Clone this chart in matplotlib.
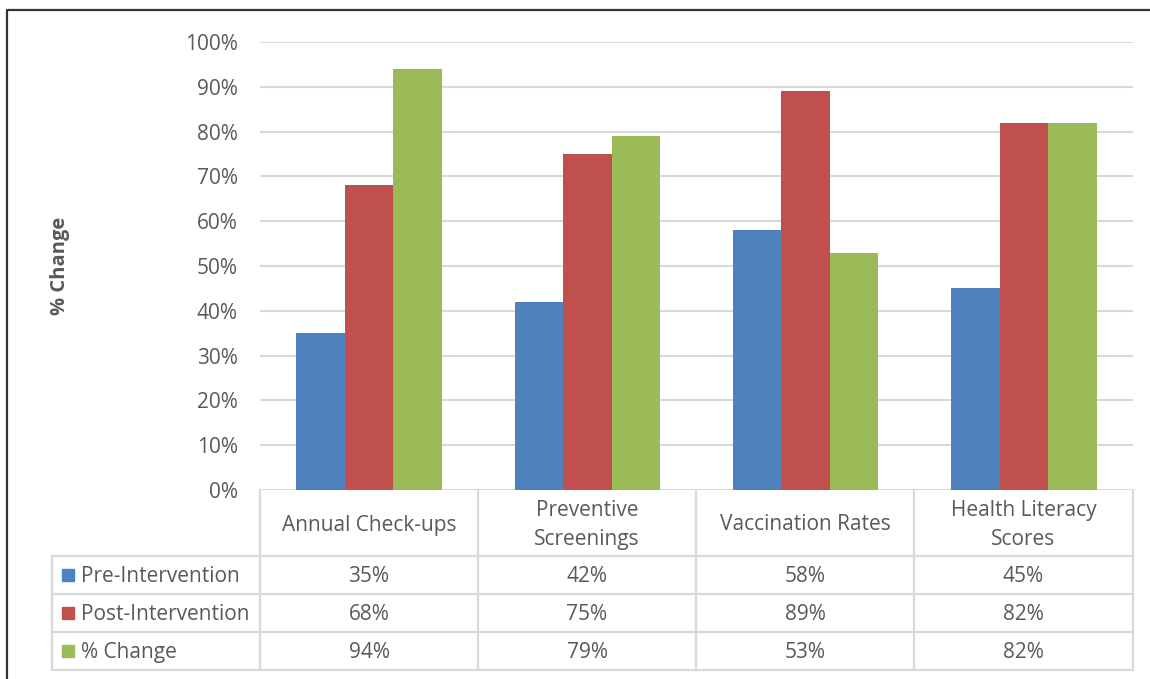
import matplotlib.pyplot as plt
from matplotlib.lines import Line2D
from matplotlib.patches import Rectangle
import numpy as np

# categorias y series (porcentajes)
categorias = ["Annual Check-ups", "Preventive\nScreenings", "Vaccination Rates", "Health Literacy\nScores"]
series = ["Pre-Intervention", "Post-Intervention", "% Change"]
pre = [35, 42, 58, 45]
post = [68, 75, 89, 82]
cambio = [94, 79, 53, 82]
colores = ["#4F81BD", "#C0504D", "#9BBB59"]

valores = [pre, post, cambio]
gris_texto = "#595959"
gris_linea = "#D9D9D9"
fuente = "Open Sans"
tam = 15

fig = plt.figure(figsize=(11.5, 6.79), dpi=100)
W, H = 1150, 679

def fx(px):
    return px / W

def fy(py):
    return 1 - py / H

ax = fig.add_axes([fx(260), fy(490), fx(1133) - fx(260), fy(42) - fy(490)])

x = np.arange(len(categorias))
ancho = 0.222
for i, (vals, col) in enumerate(zip(valores, colores)):
    ax.bar(x + (i - 1) * ancho, np.array(vals) / 100, width=ancho, color=col, zorder=3)

ax.set_xlim(-0.5, len(categorias) - 0.5)
ax.set_ylim(0, 1)
ax.set_yticks(np.arange(0, 1.01, 0.1))
ax.set_yticklabels([f"{int(round(t * 100))}%" for t in np.arange(0, 1.01, 0.1)],
                   fontfamily=fuente, fontsize=tam, color=gris_texto)
ax.tick_params(axis="y", length=0, pad=16)
ax.set_xticks([])
ax.grid(axis="y", color=gris_linea, linewidth=1.5, zorder=0)
for s in ax.spines.values():
    s.set_visible(False)

fig.text(fx(60), fy(266), "% Change", rotation=90, ha="center", va="center",
         fontfamily=fuente, fontsize=14.5, fontweight="bold", color=gris_texto)

# tabla de datos bajo el eje
filas_y = [490, 556, 594, 632, 670]
col_x = [52, 260, 478, 696, 914, 1133]

def linea(x0, x1, y0, y1):
    fig.add_artist(Line2D([fx(x0), fx(x1)], [fy(y0), fy(y1)], color=gris_linea, linewidth=1.6))

for py in filas_y[1:]:
    linea(52, 1133, py, py)
linea(52, 52, 556, 670)
for px in col_x[1:]:
    linea(px, px, 490, 670)

for j, cat in enumerate(categorias):
    cx = (col_x[j + 1] + col_x[j + 2]) / 2
    fig.text(fx(cx), fy(525), cat, ha="center", va="center", linespacing=1.45,
             fontfamily=fuente, fontsize=tam, color=gris_texto)
    for i, vals in enumerate(valores):
        cy = (filas_y[i + 1] + filas_y[i + 2]) / 2 + 1.5
        fig.text(fx(cx), fy(cy), f"{vals[j]}%", ha="center", va="center",
                 fontfamily=fuente, fontsize=tam, color=gris_texto)

for i, (nombre, col) in enumerate(zip(series, colores)):
    cy = (filas_y[i + 1] + filas_y[i + 2]) / 2
    fig.add_artist(Rectangle((fx(62), fy(cy + 6)), fx(12), fy(0) - fy(12), color=col))
    fig.text(fx(81), fy(cy + 1.5), nombre, ha="left", va="center",
             fontfamily=fuente, fontsize=tam, color=gris_texto)

# marco
fig.add_artist(Line2D([fx(7), fx(7), fx(1150)], [fy(679), fy(10), fy(10)], color="#333333", linewidth=1.6))

fig.savefig("out.png", dpi=100)
